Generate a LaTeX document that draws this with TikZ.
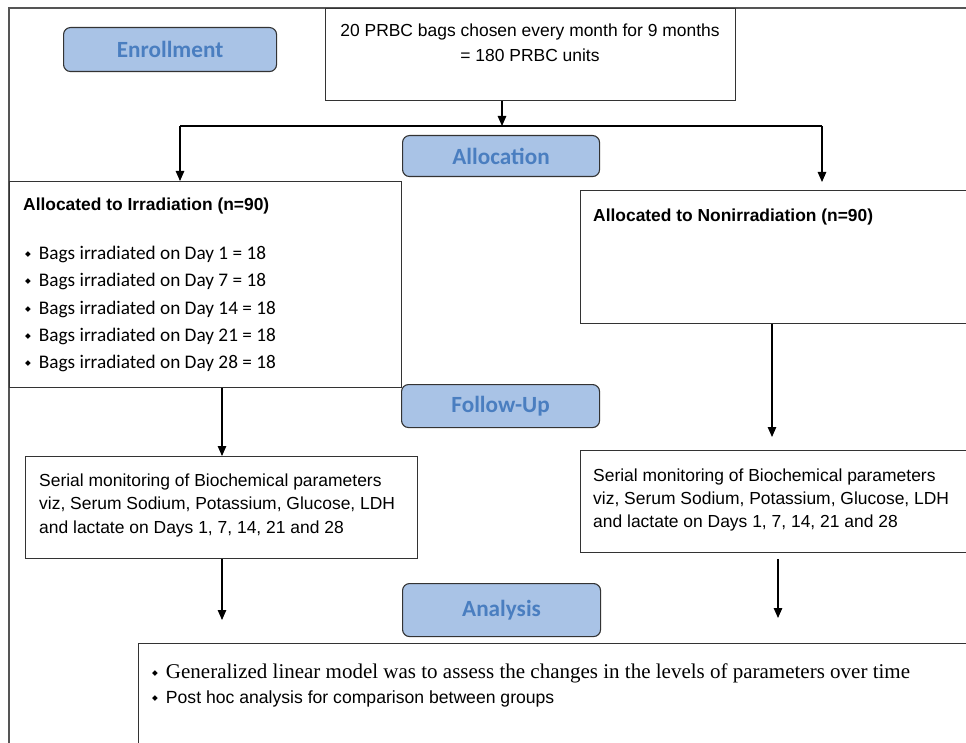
\documentclass[tikz,border=0pt]{standalone}
\usepackage{fontspec}
\setmainfont{Liberation Sans}
\newfontfamily\calfont{Carlito}
\newfontfamily\timesfont{Liberation Serif}
\newfontfamily\symfont{DejaVu Sans}
\usetikzlibrary{arrows.meta}
\definecolor{phasefill}{HTML}{A9C3E6}
\definecolor{phasetext}{HTML}{4A7EC0}
\definecolor{edgegray}{HTML}{333333}
\definecolor{framegray}{HTML}{555555}
\newcommand{\bul}{\raisebox{3pt}{\symfont\fontsize{7.5}{8}\selectfont ◆}}
\begin{document}
\begin{tikzpicture}[x=1pt,y=-1pt,
  box/.style={draw=edgegray, line width=1.3pt, fill=white, inner sep=0pt, anchor=north west},
  phase/.style={draw=edgegray, line width=1.1pt, fill=phasefill, rounded corners=7pt, inner sep=0pt,
    anchor=north west, font=\calfont\bfseries\fontsize{23.2}{26}\selectfont, text=phasetext},
  txt/.style={inner sep=0pt, anchor=base west},
  arial/.style={font=\fontsize{17.45}{20}\selectfont},
  arialb/.style={font=\bfseries\fontsize{17.4}{20}\selectfont},
  calb/.style={font=\calfont\fontsize{19.25}{22}\selectfont},
  arr/.style={draw=black, line width=1.1pt, -{Triangle[width=8.5pt,length=10pt]}},
  plain/.style={draw=black, line width=1.1pt}]
\useasboundingbox (0,0) rectangle (966,743);
\clip (0,0) rectangle (966,743);
\fill[white] (-10,-10) rectangle (1000,800);
\draw[framegray, line width=1.2pt] (9,800) -- (9,8) -- (1000,8);

% boxes
\node[box, minimum width=410, minimum height=92] (top) at (325,8) {};
\node[box, minimum width=392, minimum height=206] (irr) at (9,181) {};
\node[box, minimum width=400, minimum height=133] (nonirr) at (580,190) {};
\node[box, minimum width=392, minimum height=102] (serL) at (25,456) {};
\node[box, minimum width=400, minimum height=102] (serR) at (580,450) {};
\node[box, minimum width=850, minimum height=150] (ana) at (138,643) {};

% phase labels
\node[phase, minimum width=213, minimum height=44] (enr) at (63,27) {Enrollment};
\node[phase, minimum width=197, minimum height=41] (alloc) at (402,135) {Allocation};
\node[phase, minimum width=198, minimum height=43] (fol) at (401,384) {Follow-Up};
\node[phase, minimum width=198, minimum height=53] (anal) at (402,583) {Analysis};

% connectors
\coordinate (jn) at (502,126);
\coordinate (jl) at (180,126);
\coordinate (jr) at (822,126);
\coordinate (jrEnd) at (822,182);
\coordinate (cL) at (222,0);
\coordinate (cR) at (772,0);
\coordinate (cR2) at (778,0);
\coordinate (rEnd1) at (772,437);
\coordinate (lEnd2) at (222,620);
\coordinate (rEnd2) at (778,618);
\draw[arr] (top.south -| jn) -- (jn);
\draw[plain] (jl) -- (jr);
\draw[arr] (jl) -- (jl |- irr.north);
\draw[arr] (jr) -- (jrEnd);
\draw[arr] (irr.south -| cL) -- (serL.north -| cL);
\draw[arr] (nonirr.south -| cR) -- (rEnd1);
\draw[arr] (serL.south -| cL) -- (lEnd2);
\draw[arr] ([yshift=-6pt]serR.south -| cR2) -- (rEnd2);

% texts
\node[txt, arial, anchor=base] (t1) at (530,37) {20 PRBC bags chosen every month for 9 months};
\node[txt, arial, anchor=base] (t2) at (530,62) {= 180 PRBC units};

\node[txt, arialb] (irrh) at (23,211) {Allocated to Irradiation (n=90)};
\node[txt, calb] (b1) at (25,260) {\bul\hspace{8pt}Bags irradiated on Day 1 = 18};
\node[txt, calb] (b2) at (25,287) {\bul\hspace{8pt}Bags irradiated on Day 7 = 18};
\node[txt, calb] (b3) at (25,314) {\bul\hspace{8pt}Bags irradiated on Day 14 = 18};
\node[txt, calb] (b4) at (25,341) {\bul\hspace{8pt}Bags irradiated on Day 21 = 18};
\node[txt, calb] (b5) at (25,368) {\bul\hspace{8pt}Bags irradiated on Day 28 = 18};

\node[txt, arialb] (nonh) at (593,222) {Allocated to Nonirradiation (n=90)};

\node[txt, arial] (sl1) at (39,486) {Serial monitoring of Biochemical parameters};
\node[txt, arial] (sl2) at (39,509) {viz, Serum Sodium, Potassium, Glucose, LDH};
\node[txt, arial] (sl3) at (39,533) {and lactate on Days 1, 7, 14, 21 and 28};

\node[txt, arial] (sr1) at (593,481) {Serial monitoring of Biochemical parameters};
\node[txt, arial] (sr2) at (593,504) {viz, Serum Sodium, Potassium, Glucose, LDH};
\node[txt, arial] (sr3) at (593,527) {and lactate on Days 1, 7, 14, 21 and 28};

\node[txt, font=\timesfont\fontsize{21}{24}\selectfont] (a1) at (152,678) {\bul\hspace{8pt}Generalized linear model was to assess the changes in the levels of parameters over time};
\node[txt, font=\fontsize{17.6}{22}\selectfont] (a2) at (152,703) {\bul\hspace{8pt}Post hoc analysis for comparison between groups};
\end{tikzpicture}
\end{document}
